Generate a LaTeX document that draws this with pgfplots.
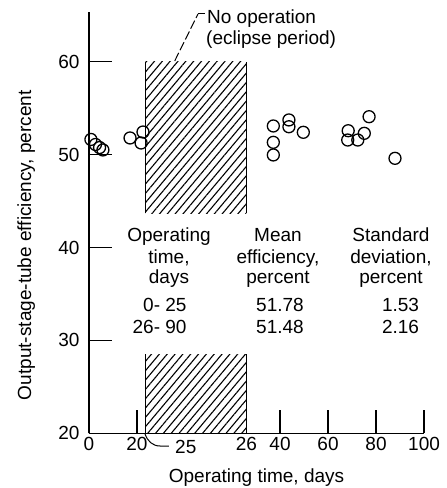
\documentclass[border=0pt]{standalone}
\usepackage{fontspec}
\setmainfont{Liberation Sans}
\usepackage{pgfplots}
\usepackage{pgfplotstable}
\pgfplotsset{compat=1.18}
\usetikzlibrary{patterns.meta}

% Efficiency readings, days 0-25
\pgfplotstableread{
day  eff
0.8  51.63
2.7  51.09
4.4  50.76
5.8  50.50
17.1 51.79
22.5 52.43
21.7 51.25
}\earlydata

% Efficiency readings, days 26-90
\pgfplotstableread{
day  eff
37.2 53.08
43.7 53.73
43.7 53.00
49.7 52.40
37.2 51.32
37.2 49.96
77.1 54.08
68.4 52.57
68.2 51.57
72.4 51.57
75.1 52.29
87.9 49.60
}\latedata

% the eclipse gap is cut out of the time axis: days >= 26 are drawn shifted left
\newcommand\gapshift{39.6}
\newcommand\chartfont{\fontsize{19}{22}\selectfont}

\begin{document}
\begin{tikzpicture}[font=\chartfont]
\path[use as bounding box] (-89pt,-54.7pt) rectangle (358pt,433.3pt);
\begin{axis}[
  at={(0pt,0pt)}, anchor=south west,
  x=2.4pt, y=9.29pt,
  xmin=0, xmax=139.6, ymin=20, ymax=65.4,
  axis lines=left,
  axis line style={-, line width=1.4pt},
  clip=false,
  tick align=inside,
  major tick length=23pt,
  tick style={line width=1.4pt, black},
  xtick={0,20,79.6,99.6,119.6,139.6},
  xticklabels={0,20,40,60,80,100},
  extra x ticks={65.6},
  extra x tick labels={26},
  extra x tick style={major tick length=0pt},
  ytick={20,30,40,50,60},
  /pgf/number format/assume math mode=true,
  tick label style={font=\chartfont},
  yticklabel style={xshift=-6pt},
  xlabel={Operating time, days},
  ylabel={Output-stage-tube efficiency, percent},
  label style={font=\chartfont},
  xlabel style={at={(axis description cs:0.5,-0.116)}, anchor=base},
  ylabel style={at={(axis description cs:-0.173,0.446)}, anchor=base},
]
% hatched eclipse period (interrupted by the summary table)
\addplot[draw=none, pattern={Lines[angle=50,distance=6pt,line width=1.1pt]}]
  coordinates {(23.4,43.7) (65.6,43.7) (65.6,60) (23.4,60)} -- cycle;
\addplot[draw=none, pattern={Lines[angle=50,distance=6pt,line width=1.1pt]}]
  coordinates {(23.4,20) (65.6,20) (65.6,28.5) (23.4,28.5)} -- cycle;
\addplot[line width=1.3pt] coordinates {(23.4,43.7) (23.4,60)};
\addplot[line width=1.3pt] coordinates {(65.6,43.7) (65.6,60)};
\addplot[line width=1.3pt] coordinates {(23.4,20) (23.4,28.5)};
\addplot[line width=1.3pt] coordinates {(65.6,20) (65.6,28.5)};

% measured efficiencies
\addplot[only marks, mark=o, mark size=6pt, mark options={line width=1.3pt}]
  table[x=day, y=eff]{\earlydata};
\addplot[only marks, mark=o, mark size=6pt, mark options={line width=1.3pt}]
  table[x expr=\thisrow{day}+\gapshift, y=eff]{\latedata};
\end{axis}

% label for the start of the eclipse
\draw[line width=1pt] (56pt,-0.7pt) to[out=-70,in=180] (71pt,-12.7pt) -- (80pt,-12.7pt);
\node[anchor=base west, inner sep=0] at (86pt,-20pt) {25};

% eclipse callout
\draw[line width=1pt, dash pattern=on 9pt off 3pt] (85.7pt,372.3pt) -- (109pt,419.3pt);
\draw[line width=1pt] (109pt,419.3pt) -- (116pt,419.3pt);
\node[anchor=base west, inner sep=0] at (118pt,409.3pt) {No operation};
\node[anchor=base west, inner sep=0] at (117pt,389pt) {(eclipse period)};

% summary table
\node[anchor=base, inner sep=0] at (80pt,191.6pt) {Operating};
\node[anchor=base, inner sep=0] at (80pt,170pt) {time,};
\node[anchor=base, inner sep=0] at (80pt,149.3pt) {days};
\node[anchor=base, inner sep=0] at (189pt,191.6pt) {Mean};
\node[anchor=base, inner sep=0] at (189pt,170pt) {efficiency,};
\node[anchor=base, inner sep=0] at (189pt,149.3pt) {percent};
\node[anchor=base, inner sep=0] at (302pt,191.6pt) {Standard};
\node[anchor=base, inner sep=0] at (302pt,170pt) {deviation,};
\node[anchor=base, inner sep=0] at (302pt,149.3pt) {percent};
\node[anchor=base east, inner sep=0] at (97.7pt,121.6pt) {0- 25};
\node[anchor=base east, inner sep=0] at (97.7pt,100pt) {26- 90};
\node[anchor=base, inner sep=0] at (191pt,121.6pt) {51.78};
\node[anchor=base, inner sep=0] at (191pt,100pt) {51.48};
\node[anchor=base, inner sep=0] at (311.5pt,121.6pt) {1.53};
\node[anchor=base, inner sep=0] at (311.5pt,100pt) {2.16};
\end{tikzpicture}
\end{document}
